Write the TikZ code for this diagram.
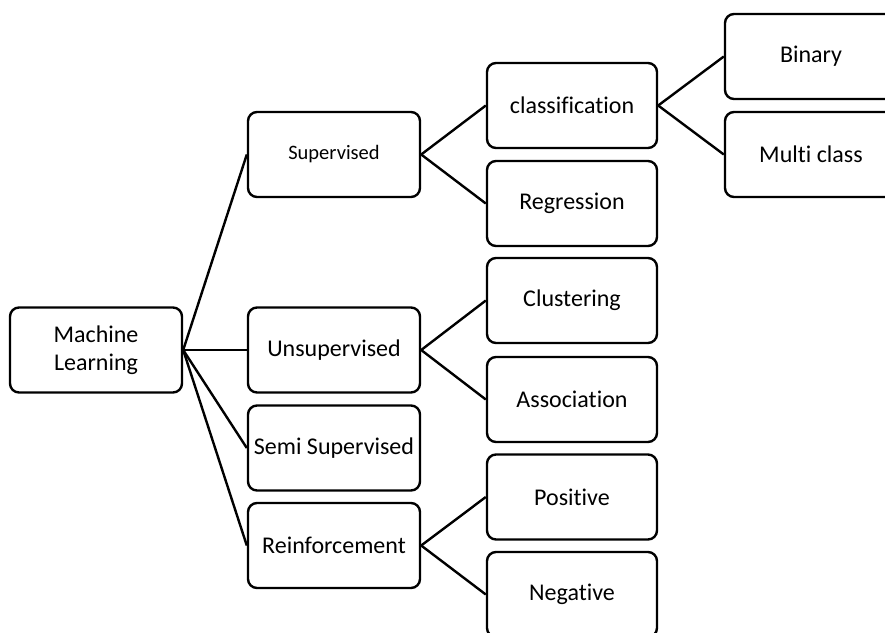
\documentclass[tikz,border=0pt]{standalone}
\usepackage{fontspec}
\setmainfont{Carlito}[Ligatures={NoCommon,NoContextual}]
\usepackage{tikz}

\begin{document}
\begin{tikzpicture}[x=1pt, y=-1pt,
  box/.style={draw=black, line width=2.4pt, rounded corners=9pt, fill=white,
    minimum width=172pt, minimum height=85pt, inner sep=2pt, align=center,
    font=\fontsize{24}{28}\selectfont},
  link/.style={line width=2.4pt, black}]
  \clip (0,0) rectangle (885,632);
  \fill[white] (0,0) rectangle (885,632);

  % root
  \node[box] (ml) at (96,350) {Machine\\Learning};

  % learning types
  \node[box, font=\fontsize{20.5}{24}\selectfont] (sup) at (334,154.5) {Supervised};
  \node[box] (unsup) at (334,350) {Unsupervised};
  \node[box] (semi) at (334,448) {Semi Supervised};
  \node[box] (reinf) at (334,545.5) {Reinforcement};

  % tasks
  \node[box, minimum width=170pt] (cls) at (572,105.5) {classification};
  \node[box, minimum width=170pt] (reg) at (572,203.5) {Regression};
  \node[box, minimum width=170pt] (clu) at (572,300.5) {Clustering};
  \node[box, minimum width=170pt] (asc) at (572,399.5) {Association};
  \node[box, minimum width=170pt] (pos) at (572,497) {Positive};
  \node[box, minimum width=170pt] (neg) at (572,594.5) {Negative};

  % classification kinds
  \node[box] (bin) at (811,56.5) {Binary};
  \node[box] (multi) at (811,154.5) {Multi class};

  \draw[link] (ml.east) -- (sup.west);
  \draw[link] (ml.east) -- (unsup.west);
  \draw[link] (ml.east) -- (semi.west);
  \draw[link] (ml.east) -- (reinf.west);

  \draw[link] (sup.east) -- (cls.west);
  \draw[link] (sup.east) -- (reg.west);
  \draw[link] (unsup.east) -- (clu.west);
  \draw[link] (unsup.east) -- (asc.west);
  \draw[link] (reinf.east) -- (pos.west);
  \draw[link] (reinf.east) -- (neg.west);

  \draw[link] (cls.east) -- (bin.west);
  \draw[link] (cls.east) -- (multi.west);
\end{tikzpicture}
\end{document}
